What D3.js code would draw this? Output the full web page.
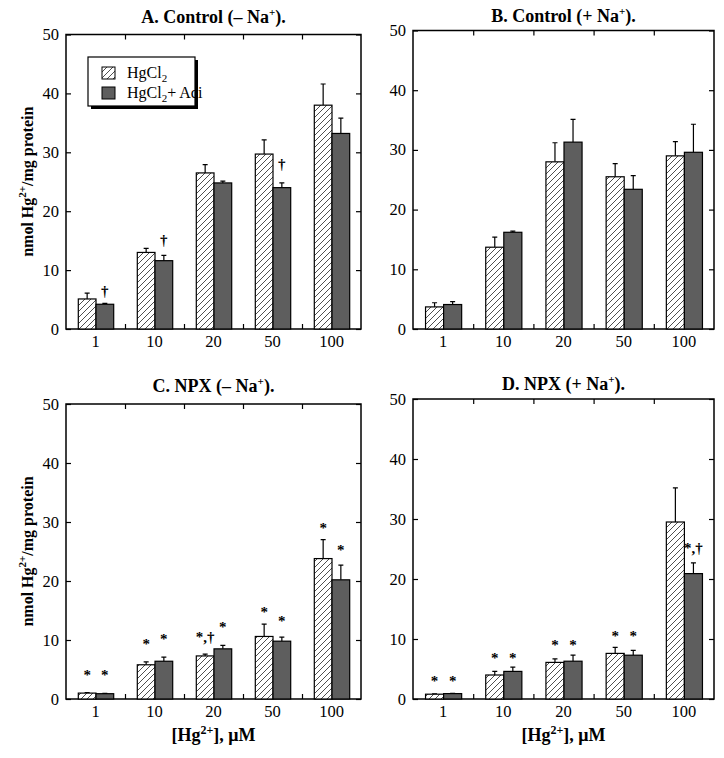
<!DOCTYPE html>
<html>
<head>
<meta charset="utf-8">
<script src="https://cdn.jsdelivr.net/npm/d3@7/dist/d3.min.js"></script>
<style>
  body { margin: 0; background: #fff; }
  svg { display: block; font-family: "Liberation Serif", "Times New Roman", serif; }
</style>
</head>
<body>
<svg id="chart" width="724" height="758"></svg>
<script>
// ---------- data ----------
const categories = ["1", "10", "20", "50", "100"];
const yTicks = [0, 10, 20, 30, 40, 50];
const seriesNames = ["HgCl2", "HgCl2+ Aci"];

const A_hg = [5.1, 13.0, 26.5, 29.7, 38.0];
const A_hgErr = [1.0, 0.7, 1.4, 2.4, 3.6];
const A_aci = [4.2, 11.6, 24.8, 24.0, 33.2];
const A_aciErr = [0.15, 0.9, 0.3, 0.8, 2.6];
const A_marks = [["1", 1, "†", 6.6], ["10", 1, "†", 15.2], ["50", 1, "†", 28.1]];

const B_hg = [3.7, 13.7, 28.0, 25.5, 29.0];
const B_hgErr = [0.7, 1.7, 3.2, 2.2, 2.4];
const B_aci = [4.1, 16.2, 31.3, 23.4, 29.6];
const B_aciErr = [0.5, 0.2, 3.8, 2.3, 4.7];
const B_marks = [];

const C_hg = [1.0, 5.8, 7.3, 10.6, 23.8];
const C_hgErr = [0.1, 0.5, 0.3, 2.1, 3.2];
const C_aci = [0.9, 6.4, 8.5, 9.8, 20.2];
const C_aciErr = [0.05, 0.7, 0.6, 0.7, 2.5];
const C_marks = [["1", 0, "*", 4.3], ["1", 1, "*", 4.3], ["10", 0, "*", 9.5], ["10", 1, "*", 10.3],
                 ["20", 0, "*,†", 10.6], ["20", 1, "*", 12.4], ["50", 0, "*", 15.0], ["50", 1, "*", 13.4],
                 ["100", 0, "*", 29.2], ["100", 1, "*", 25.5]];

const D_hg = [0.8, 4.0, 6.1, 7.6, 29.5];
const D_hgErr = [0.05, 0.6, 0.6, 1.0, 5.7];
const D_aci = [0.9, 4.6, 6.3, 7.3, 20.9];
const D_aciErr = [0.05, 0.7, 1.0, 0.8, 1.8];
const D_marks = [["1", 0, "*", 3.2], ["1", 1, "*", 3.2], ["10", 0, "*", 7.0], ["10", 1, "*", 7.0],
                 ["20", 0, "*", 9.1], ["20", 1, "*", 9.1], ["50", 0, "*", 10.6], ["50", 1, "*", 10.6],
                 ["100", 1, "*,†", 25.4]];

const panels = [
  { title: ["A. Control (– Na", "+", ")."], hg: A_hg, hgErr: A_hgErr, aci: A_aci, aciErr: A_aciErr, marks: A_marks,
    box: { l: 66, t: 34.5, r: 361, b: 329 }, yLabel: true, xLabel: false, legend: true, titleY: 23 },
  { title: ["B. Control (+ Na", "+", ")."], hg: B_hg, hgErr: B_hgErr, aci: B_aci, aciErr: B_aciErr, marks: B_marks,
    box: { l: 413, t: 30.5, r: 714, b: 329 }, yLabel: false, xLabel: false, legend: false, titleY: 22 },
  { title: ["C. NPX (– Na", "+", ")."], hg: C_hg, hgErr: C_hgErr, aci: C_aci, aciErr: C_aciErr, marks: C_marks,
    box: { l: 66, t: 404, r: 361, b: 699 }, yLabel: true, xLabel: true, legend: false, titleY: 392 },
  { title: ["D. NPX (+ Na", "+", ")."], hg: D_hg, hgErr: D_hgErr, aci: D_aci, aciErr: D_aciErr, marks: D_marks,
    box: { l: 413, t: 399, r: 714, b: 699 }, yLabel: false, xLabel: true, legend: false, titleY: 390 }
];

// ---------- drawing ----------
const svg = d3.select("#chart");
const defs = svg.append("defs");
const pat = defs.append("pattern").attr("id", "hatch").attr("patternUnits", "userSpaceOnUse")
  .attr("width", 6).attr("height", 6);
pat.append("rect").attr("width", 6).attr("height", 6).attr("fill", "#fff");
pat.append("path").attr("d", "M-1,7 L7,-1 M-1,1 L1,-1 M5,7 L7,5")
  .attr("stroke", "#222").attr("stroke-width", 0.8);

const solidFill = "#5e5e5e";

panels.forEach(p => {
  const { l, t, r, b } = p.box;
  const g = svg.append("g");
  const x = d3.scaleBand().domain(categories).range([l, r]);
  const xi = d3.scaleLinear().domain([0, categories.length]).range([l, r]);
  const y = d3.scaleLinear().domain([0, 50]).range([b, t]);
  const bw = x.bandwidth() * 0.3;

  // frame
  g.append("rect").attr("x", l).attr("y", t).attr("width", r - l).attr("height", b - t)
    .attr("fill", "none").attr("stroke", "#000").attr("stroke-width", 1.5);

  // left axis (ticks inward)
  const ax = g.append("g").attr("transform", `translate(${l},0)`)
    .call(d3.axisRight(y).tickValues(yTicks).tickSize(5).tickFormat(""));
  ax.select(".domain").remove();
  ax.selectAll("line").attr("stroke-width", 1.2);
  g.append("g").selectAll("text").data(yTicks).join("text")
    .attr("x", l - 7).attr("y", d => y(d) + 5.5).attr("text-anchor", "end")
    .attr("font-size", 16.5).attr("fill", "#000").text(d => d);

  // right axis inward
  const ar = g.append("g").attr("transform", `translate(${r},0)`)
    .call(d3.axisLeft(y).tickValues(yTicks).tickSize(5).tickFormat(""));
  ar.select(".domain").remove();
  ar.selectAll("line").attr("stroke-width", 1.2);

  // top & bottom boundary ticks inward
  const bnd = d3.range(1, categories.length);
  const at = g.append("g").attr("transform", `translate(0,${t})`)
    .call(d3.axisBottom(xi).tickValues(bnd).tickSize(5).tickFormat(""));
  at.select(".domain").remove();
  at.selectAll("line").attr("stroke-width", 1.2);
  const ab = g.append("g").attr("transform", `translate(0,${b})`)
    .call(d3.axisTop(xi).tickValues(bnd).tickSize(5).tickFormat(""));
  ab.select(".domain").remove();
  ab.selectAll("line").attr("stroke-width", 1.2);

  // category labels
  g.append("g").selectAll("text").data(categories).join("text")
    .attr("x", d => x(d) + x.bandwidth() / 2).attr("y", b + 18)
    .attr("text-anchor", "middle").attr("font-size", 16.5).attr("fill", "#000").text(d => d);

  // bars
  const series = [
    { vals: p.hg, err: p.hgErr, fill: "url(#hatch)", off: -bw },
    { vals: p.aci, err: p.aciErr, fill: solidFill, off: 0 }
  ];
  series.forEach(s => {
    const cx = (d, i) => x(categories[i]) + x.bandwidth() / 2 + s.off + 0.5;
    g.append("g").selectAll("path").data(s.vals).join("path")
      .attr("d", (d, i) => {
        const xc = cx(d, i) + bw / 2;
        const y0 = y(d), y1 = y(d + s.err[i]);
        return `M${xc},${y0}L${xc},${y1}M${xc - 2.5},${y1}L${xc + 2.5},${y1}`;
      })
      .attr("stroke", "#000").attr("stroke-width", 1.2).attr("fill", "none");
    g.append("g").selectAll("rect").data(s.vals).join("rect")
      .attr("x", (d, i) => cx(d, i)).attr("y", d => y(d))
      .attr("width", bw).attr("height", d => b - y(d))
      .attr("fill", s.fill).attr("stroke", "#000").attr("stroke-width", 1.2);
  });

  // significance marks
  g.append("g").selectAll("text").data(p.marks).join("text")
    .attr("x", d => x(d[0]) + x.bandwidth() / 2 + (d[1] === 0 ? -bw / 2 : bw / 2) + 0.5)
    .attr("y", d => y(d[3]) + 6)
    .attr("text-anchor", "middle").attr("font-size", 15).attr("font-weight", "bold")
    .attr("fill", "#000").text(d => d[2]);

  // title
  const tt = g.append("text").attr("x", (l + r) / 2).attr("y", p.titleY)
    .attr("text-anchor", "middle").attr("font-size", 18).attr("font-weight", "bold").attr("fill", "#000");
  tt.append("tspan").text(p.title[0]);
  tt.append("tspan").attr("font-size", 11).attr("dy", -7).text(p.title[1]);
  tt.append("tspan").attr("dy", 7).text(p.title[2]);

  // y label
  if (p.yLabel) {
    const yl = g.append("text").attr("transform", `translate(33,${(t + b) / 2}) rotate(-90)`)
      .attr("text-anchor", "middle").attr("font-size", 16).attr("font-weight", "bold").attr("fill", "#000");
    yl.append("tspan").text("nmol Hg");
    yl.append("tspan").attr("font-size", 11).attr("dy", -7).text("2+");
    yl.append("tspan").attr("dy", 7).text("/mg protein");
  }
  // x label
  if (p.xLabel) {
    const xl = g.append("text").attr("x", (l + r) / 2).attr("y", 741)
      .attr("text-anchor", "middle").attr("font-size", 18).attr("font-weight", "bold").attr("fill", "#000");
    xl.append("tspan").text("[Hg");
    xl.append("tspan").attr("font-size", 12).attr("dy", -7).text("2+");
    xl.append("tspan").attr("dy", 7).text("], μM");
  }

  // legend
  if (p.legend) {
    const lx = 88, ly = 57, lw = 107, lh = 49;
    const lg = g.append("g");
    lg.append("rect").attr("x", lx + 3).attr("y", ly + 3).attr("width", lw).attr("height", lh).attr("fill", "#000");
    lg.append("rect").attr("x", lx).attr("y", ly).attr("width", lw).attr("height", lh)
      .attr("fill", "#fff").attr("stroke", "#000").attr("stroke-width", 1.2);
    const fills = ["url(#hatch)", solidFill];
    seriesNames.forEach((nm, i) => {
      const yy = ly + 10 + i * 20;
      lg.append("rect").attr("x", lx + 14).attr("y", yy).attr("width", 13).attr("height", 12)
        .attr("fill", fills[i]).attr("stroke", "#000").attr("stroke-width", 1);
      const tx = lg.append("text").attr("x", lx + 39).attr("y", yy + 11).attr("font-size", 16).attr("fill", "#000");
      tx.append("tspan").text("HgCl");
      tx.append("tspan").attr("font-size", 11).attr("dy", 4).text("2");
      tx.append("tspan").attr("dy", -4).text(i === 0 ? "" : "+ Aci");
    });
  }
});
</script>
</body>
</html>
